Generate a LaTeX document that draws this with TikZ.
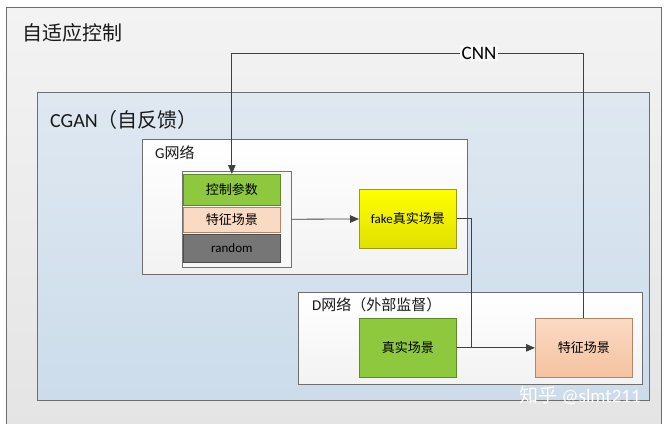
\documentclass[tikz,border=0pt]{standalone}
\usepackage{fontspec}
\setmainfont{Carlito}
\newfontfamily\cjk{Noto Sans CJK SC}
\usetikzlibrary{arrows.meta}

\definecolor{outerTop}{HTML}{F3F3F3}
\definecolor{outerBot}{HTML}{E4E4E4}
\definecolor{cganTop}{HTML}{DFE8F1}
\definecolor{cganBot}{HTML}{CCDCEB}
\definecolor{frameLine}{HTML}{6E6E6E}
\definecolor{linkLine}{HTML}{404040}
\definecolor{leafGreen}{HTML}{8DC83F}
\definecolor{leafGreenDark}{HTML}{5E8A2C}
\definecolor{peachTop}{HTML}{FBDAC4}
\definecolor{peachBot}{HTML}{F4C29F}
\definecolor{peachLine}{HTML}{B0866A}
\definecolor{randGray}{HTML}{767676}
\definecolor{randLine}{HTML}{4F4F4F}
\definecolor{fakeYellow}{HTML}{FFFF00}
\definecolor{fakeLine}{HTML}{9A9A20}

\newcommand\fsz[1]{\fontsize{#1}{#1}\selectfont}

\tikzset{
  frame/.style={draw=frameLine, line width=0.9pt, anchor=north west, inner sep=0pt},
  cell/.style={draw=#1, line width=0.7pt, anchor=north west, inner sep=0pt,
    font=\fsz{13}, text=black},
  title/.style={anchor=west, inner sep=0pt, text=black!90},
  link/.style={draw=linkLine, line width=0.8pt},
  tip/.style={-{Triangle[length=9pt,width=7.5pt]}}
}

\begin{document}
\begin{tikzpicture}[x=1pt,y=-1pt]

  \useasboundingbox[fill=white] (0,0) rectangle (668,423);

  %% frames
  \node[frame, top color=outerTop, bottom color=outerBot,
    minimum width=655pt, minimum height=423pt] (adapt) at (6,7) {};
  \node[frame, top color=cganTop, bottom color=cganBot,
    minimum width=612pt, minimum height=308pt] (cgan) at (37,92) {};
  \node[frame, top color=white, bottom color=black!5,
    minimum width=325pt, minimum height=135pt] (gnet) at (142,139) {};
  \node[frame, top color=white, bottom color=black!5,
    minimum width=344pt, minimum height=92pt] (dnet) at (298,292) {};

  %% titles
  \node[title, font=\fsz{20}] (adaptT) at (22,33) {\cjk 自适应控制};
  \node[title, font=\fsz{20}] (cganT) at (50,120) {CGAN{\cjk （自反馈）}};
  \node[title, font=\fsz{15}] (gnetT) at (155,153) {G{\cjk 网络}};
  \node[title, font=\fsz{15}] (dnetT) at (312,305) {D{\cjk 网络（外部监督）}};

  %% G network inputs
  \node[frame, draw=black!55, line width=0.7pt, fill=black!3,
    minimum width=109pt, minimum height=96pt] (stack) at (182,171) {};
  \node[cell=leafGreenDark, fill=leafGreen,
    minimum width=97pt, minimum height=31pt] (ctrl) at (183,174) {\cjk 控制参数};
  \node[cell=peachLine, fill=peachTop,
    minimum width=97pt, minimum height=25pt] (feat) at (183,207) {\cjk 特征场景};
  \node[cell=randLine, fill=randGray,
    minimum width=97pt, minimum height=28pt] (rand) at (183,234) {random};

  %% outputs
  \node[cell=fakeLine, top color=fakeYellow, bottom color=fakeYellow!88!black,
    minimum width=97pt, minimum height=59pt] (fake) at (359,189) {fake{\cjk 真实场景}};
  \node[cell=leafGreenDark, fill=leafGreen,
    minimum width=97pt, minimum height=59pt] (real) at (359,318) {\cjk 真实场景};
  \node[cell=peachLine, top color=peachTop, bottom color=peachBot,
    minimum width=97pt, minimum height=59pt] (dfeat) at (535,318) {\cjk 特征场景};

  %% CNN feedback label
  \node[inner sep=1.5pt, fill=outerTop!60!white, font=\fsz{19}, text=black]
    (cnn) at (479,53) {CNN};
  \coordinate (jn) at (471,347.5);

  %% connectors
  \draw[link] (dfeat.north) |- (cnn.east);
  \draw[link,tip] (cnn.west) -| (ctrl.north);
  \draw[link,tip] (stack) -- (fake);
  \draw[link] (fake.east) -| (jn);
  \draw[link,tip] (real.east) -- (dfeat.west);

  %% watermark
  \node[inner sep=0pt, font=\fsz{19}, text=white] (mark) at (580,396)
    {{\cjk 知乎} @slmt211};

\end{tikzpicture}
\end{document}
